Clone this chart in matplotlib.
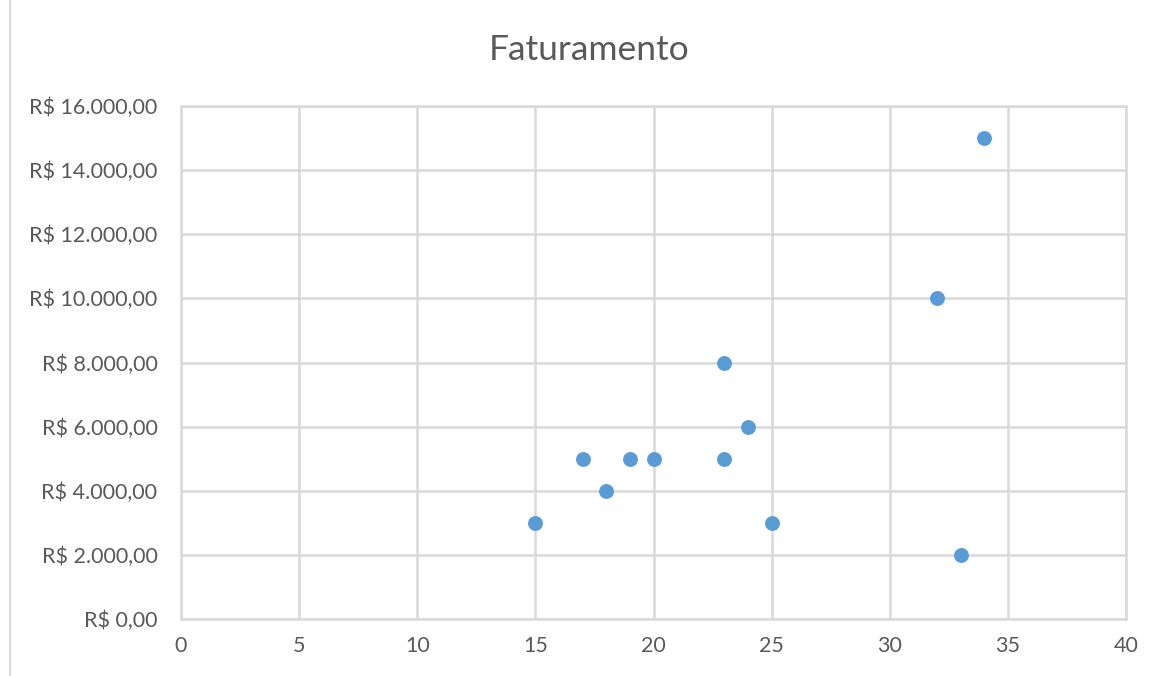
import matplotlib
matplotlib.use("Agg")
from matplotlib import pyplot as plt
from matplotlib.lines import Line2D
from matplotlib.ticker import FuncFormatter

plt.rcParams['font.family'] = ['Lato', 'DejaVu Sans']

idade = [15, 17, 18, 19, 20, 23, 23, 24, 25, 32, 33, 34]
faturamento = [3000, 5000, 4000, 5000, 5000, 8000, 5000, 6000, 3000, 10000, 2000, 15000]

x_ticks = list(range(0, 41, 5))
y_ticks = list(range(0, 16001, 2000))

texto = '#595959'
grade = '#D9D9D9'


def reais(v, pos):
    s = f"{v:,.2f}".replace(",", "X").replace(".", ",").replace("X", ".")
    return "R$ " + s


fig = plt.figure(figsize=(11.51, 6.76), dpi=100)
ax = fig.add_axes([0.1573, 0.0843, 0.8210, 0.7589])

ax.scatter(idade, faturamento, s=115, color='#5B9BD5', zorder=3, linewidths=0)

ax.set_xlim(0, 40)
ax.set_ylim(0, 16000)
ax.set_xticks(x_ticks)
ax.set_yticks(y_ticks)
ax.yaxis.set_major_formatter(FuncFormatter(reais))
ax.grid(True, color=grade, linewidth=1.8)
ax.set_axisbelow(True)
for s in ax.spines.values():
    s.set_color(grade)
    s.set_linewidth(1.8)
ax.tick_params(length=0, labelsize=15.5, colors=texto)
ax.tick_params(axis='y', pad=17)
ax.tick_params(axis='x', pad=12)

fig.text(0.512, 0.926, 'Faturamento', ha='center', va='center', fontsize=25.5, color=texto)

fig.add_artist(Line2D([0.009, 0.009], [0, 1], color=grade, linewidth=1.5, transform=fig.transFigure))

fig.savefig('out.png', dpi=100)
